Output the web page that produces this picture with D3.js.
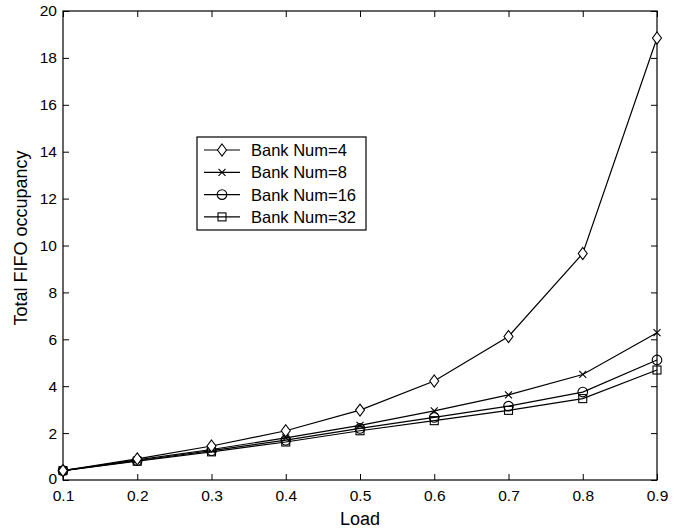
<!DOCTYPE html>
<html>
<head>
<meta charset="utf-8">
<script src="https://cdn.jsdelivr.net/npm/d3@7"></script>
<style>
  body { margin: 0; background: #fff; }
  svg { display: block; font-family: "Liberation Sans", Arial, sans-serif; }
</style>
</head>
<body>
<svg id="chart" width="684" height="529"></svg>
<script>
// Load values on the x axis
const loads = [0.1, 0.2, 0.3, 0.4, 0.5, 0.6, 0.7, 0.8, 0.9];
// Total FIFO occupancy per bank count
const bank4  = [0.40, 0.90, 1.45, 2.10, 2.98, 4.22, 6.12, 9.66, 18.85];
const bank8  = [0.40, 0.86, 1.30, 1.80, 2.33, 2.95, 3.63, 4.50, 6.28];
const bank16 = [0.40, 0.82, 1.25, 1.70, 2.20, 2.67, 3.15, 3.75, 5.12];
const bank32 = [0.40, 0.80, 1.20, 1.62, 2.10, 2.53, 2.97, 3.47, 4.69];
const seriesNames = ["Bank Num=4", "Bank Num=8", "Bank Num=16", "Bank Num=32"];
const seriesMarkers = ["diamond", "cross", "circle", "square"];
const xTicks = [0.1, 0.2, 0.3, 0.4, 0.5, 0.6, 0.7, 0.8, 0.9];
const yTicks = [0, 2, 4, 6, 8, 10, 12, 14, 16, 18, 20];

const series = [bank4, bank8, bank16, bank32].map((vals, i) => ({
  name: seriesNames[i], marker: seriesMarkers[i], values: vals
}));

const svg = d3.select("#chart");
const mLeft = 63, mRight = 657, mTop = 11, mBottom = 480;

const x = d3.scaleLinear().domain([0.1, 0.9]).range([mLeft, mRight]);
const y = d3.scaleLinear().domain([0, 20]).range([mBottom, mTop]);

const tickLen = 6;
const fontSize = 15.5;

// Axes with ticks pointing inward on all four sides
const gBottom = svg.append("g").attr("transform", `translate(0,${mBottom})`)
  .call(d3.axisBottom(x).tickValues(xTicks).tickFormat(d3.format(".1f")).tickSizeInner(-tickLen).tickSizeOuter(0).tickPadding(9.5));
const gTop = svg.append("g").attr("transform", `translate(0,${mTop})`)
  .call(d3.axisTop(x).tickValues(xTicks).tickFormat("").tickSizeInner(-tickLen).tickSizeOuter(0));
const gLeft = svg.append("g").attr("transform", `translate(${mLeft},0)`)
  .call(d3.axisLeft(y).tickValues(yTicks).tickFormat(d3.format("d")).tickSizeInner(-tickLen).tickSizeOuter(0).tickPadding(6));
const gRight = svg.append("g").attr("transform", `translate(${mRight},0)`)
  .call(d3.axisRight(y).tickValues(yTicks).tickFormat("").tickSizeInner(-tickLen).tickSizeOuter(0));

[gBottom, gTop, gLeft, gRight].forEach(g => {
  g.select(".domain").remove();
  g.selectAll("line").attr("stroke", "#000").attr("stroke-width", 1);
  g.selectAll("text").attr("font-size", fontSize).attr("fill", "#000")
    .attr("font-family", "'Liberation Sans', Arial, sans-serif");
});

// Lift the "0" label slightly so it clears the "0.1" label beneath it
gLeft.selectAll(".tick").filter(d => d === 0).select("text").attr("dy", "0.2em");

// Plot frame
svg.append("rect")
  .attr("x", mLeft).attr("y", mTop)
  .attr("width", mRight - mLeft).attr("height", mBottom - mTop)
  .attr("fill", "none").attr("stroke", "#000").attr("stroke-width", 1.2);

// Axis titles
svg.append("text")
  .attr("x", (mLeft + mRight) / 2).attr("y", 525)
  .attr("text-anchor", "middle").attr("font-size", 18).text("Load");
svg.append("text")
  .attr("transform", `translate(27,238) rotate(-90)`)
  .attr("text-anchor", "middle").attr("font-size", 18).text("Total FIFO occupancy");

function drawMarker(g, type, cx, cy) {
  if (type === "diamond") {
    const r = 6;
    g.append("path").attr("d", `M${cx},${cy - r}L${cx + r * 0.75},${cy}L${cx},${cy + r}L${cx - r * 0.75},${cy}Z`)
      .attr("fill", "#fff").attr("stroke", "#000").attr("stroke-width", 1.1);
  } else if (type === "cross") {
    const r = 3.5;
    g.append("path").attr("d", `M${cx - r},${cy - r}L${cx + r},${cy + r}M${cx - r},${cy + r}L${cx + r},${cy - r}`)
      .attr("stroke", "#000").attr("stroke-width", 1.1);
  } else if (type === "circle") {
    g.append("circle").attr("cx", cx).attr("cy", cy).attr("r", 4.8)
      .attr("fill", "none").attr("stroke", "#000").attr("stroke-width", 1.1);
  } else if (type === "square") {
    const r = 4;
    g.append("rect").attr("x", cx - r).attr("y", cy - r).attr("width", 2 * r).attr("height", 2 * r)
      .attr("fill", "none").attr("stroke", "#000").attr("stroke-width", 1.1);
  }
}

const line = d3.line().x((d, i) => x(loads[i])).y(d => y(d));

// Draw lines and markers (back to front so the top series sits above)
series.slice().reverse().forEach(s => {
  const g = svg.append("g");
  g.append("path").datum(s.values).attr("d", line)
    .attr("fill", "none").attr("stroke", "#000").attr("stroke-width", 1.2);
  s.values.forEach((v, i) => drawMarker(g, s.marker, x(loads[i]), y(v)));
});

// Legend
const lg = svg.append("g");
const lx = 197, ly = 137, lw = 169, lh = 93;
lg.append("rect").attr("x", lx).attr("y", ly).attr("width", lw).attr("height", lh)
  .attr("fill", "#fff").attr("stroke", "#000").attr("stroke-width", 1.2);
series.forEach((s, i) => {
  const yy = ly + 13 + i * 22.3;
  lg.append("line").attr("x1", lx + 7).attr("x2", lx + 43).attr("y1", yy).attr("y2", yy)
    .attr("stroke", "#000").attr("stroke-width", 1.2);
  drawMarker(lg, s.marker, lx + 25, yy);
  lg.append("text").attr("x", lx + 54).attr("y", yy + 6)
    .attr("font-size", 16.5).text(s.name);
});
</script>
</body>
</html>
